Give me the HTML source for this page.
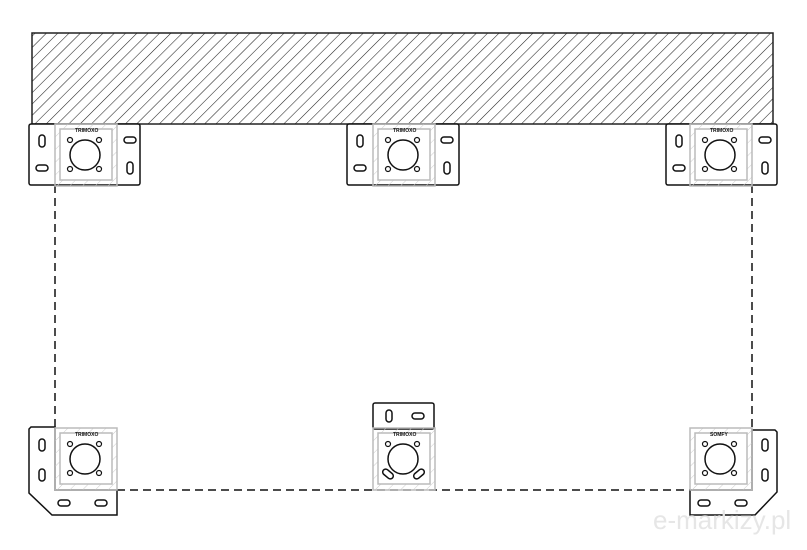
<!DOCTYPE html>
<html><head><meta charset="utf-8"><style>
html,body{margin:0;padding:0;background:#fff;}
svg{display:block;}
</style></head><body>
<svg width="807" height="550" viewBox="0 0 807 550" xmlns="http://www.w3.org/2000/svg">
<defs>
<pattern id="h" patternUnits="userSpaceOnUse" width="8" height="8" patternTransform="rotate(45)">
<line x1="0" y1="0" x2="0" y2="8" stroke="#222" stroke-width="1.1"/>
</pattern>
<pattern id="hg" patternUnits="userSpaceOnUse" width="9" height="9" patternTransform="rotate(45)">
<line x1="0" y1="0" x2="0" y2="9" stroke="#ccc" stroke-width="1"/>
</pattern>
<g id="m">
<rect x="0" y="0" width="62" height="62" fill="url(#hg)" stroke="#bbb" stroke-width="1.5"/>
<rect x="5" y="5" width="52" height="51" fill="#fff" stroke="#bbb" stroke-width="1.5"/>
<circle cx="30" cy="31" r="15" fill="none" stroke="#111" stroke-width="1.5"/>
</g>
<g id="h4">
<circle cx="15" cy="16" r="2.5" fill="none" stroke="#111" stroke-width="1.2"/>
<circle cx="44" cy="16" r="2.5" fill="none" stroke="#111" stroke-width="1.2"/>
<circle cx="15" cy="45" r="2.5" fill="none" stroke="#111" stroke-width="1.2"/>
<circle cx="44" cy="45" r="2.5" fill="none" stroke="#111" stroke-width="1.2"/>
</g>
<rect id="sv" x="-3" y="-6" width="6" height="12" rx="3" fill="none" stroke="#111" stroke-width="1.5"/>
<rect id="sh" x="-6" y="-3" width="12" height="6" rx="3" fill="none" stroke="#111" stroke-width="1.5"/>
</defs>

<rect x="32" y="33" width="741" height="91" fill="url(#h)" stroke="#222" stroke-width="1.5"/>

<g stroke="#111" stroke-width="1.5" stroke-dasharray="8,5" fill="none">
<line x1="55" y1="185" x2="55" y2="427"/>
<line x1="752" y1="185" x2="752" y2="427"/>
<line x1="117" y1="490" x2="690" y2="490"/>
</g>

<g fill="#fff" stroke="#111" stroke-width="1.5">
<rect x="29" y="124" width="111" height="61" rx="2"/>
<rect x="347" y="124" width="112" height="61" rx="2"/>
<rect x="666" y="124" width="111" height="61" rx="2"/>
<path d="M31,427 L55,427 L55,490 L117,490 L117,515 L52,515 L29,493 L29,429 Z"/>
<rect x="373" y="403" width="61" height="26" rx="2"/>
<path d="M752,430 L775,430 L777,432 L777,492 L755,515 L690,515 L690,490 L752,490 Z"/>
</g>

<g font-family="Liberation Sans, sans-serif" font-size="5" font-weight="bold" fill="#111">
<g transform="translate(55,124)"><use href="#m"/><use href="#h4"/><text x="20" y="8">TRIMOXO</text></g>
<g transform="translate(373,124)"><use href="#m"/><use href="#h4"/><text x="20" y="8">TRIMOXO</text></g>
<g transform="translate(690,124)"><use href="#m"/><use href="#h4"/><text x="20" y="8">TRIMOXO</text></g>
<g transform="translate(55,428)"><use href="#m"/><use href="#h4"/><text x="20" y="8">TRIMOXO</text></g>
<g transform="translate(690,428)"><use href="#m"/><use href="#h4"/><text x="20" y="8">SOMFY</text></g>
<g transform="translate(373,428)"><use href="#m"/>
<circle cx="15" cy="16" r="2.5" fill="none" stroke="#111" stroke-width="1.2"/>
<circle cx="44" cy="16" r="2.5" fill="none" stroke="#111" stroke-width="1.2"/>
<rect x="-6" y="-3" width="12" height="6" rx="3" transform="translate(15,46) rotate(40)" fill="none" stroke="#111" stroke-width="1.5"/>
<rect x="-6" y="-3" width="12" height="6" rx="3" transform="translate(46,46) rotate(-40)" fill="none" stroke="#111" stroke-width="1.5"/>
<text x="20" y="8">TRIMOXO</text></g>
</g>

<use href="#sv" x="42" y="141"/><use href="#sh" x="42" y="168"/>
<use href="#sh" x="130" y="140"/><use href="#sv" x="130" y="168"/>
<use href="#sv" x="360" y="141"/><use href="#sh" x="360" y="168"/>
<use href="#sh" x="447" y="140"/><use href="#sv" x="447" y="168"/>
<use href="#sv" x="679" y="141"/><use href="#sh" x="679" y="168"/>
<use href="#sh" x="765" y="140"/><use href="#sv" x="765" y="168"/>
<use href="#sv" x="42" y="445"/><use href="#sv" x="42" y="475"/>
<use href="#sh" x="64" y="503"/><use href="#sh" x="101" y="503"/>
<use href="#sv" x="389" y="416"/><use href="#sh" x="418" y="416"/>
<use href="#sv" x="765" y="445"/><use href="#sv" x="765" y="475"/>
<use href="#sh" x="704" y="503"/><use href="#sh" x="741" y="503"/>

<text x="653" y="529" font-family="Liberation Sans, sans-serif" font-size="26" fill="#e6e6e6">e-markizy.pl</text>
</svg>
</body></html>
